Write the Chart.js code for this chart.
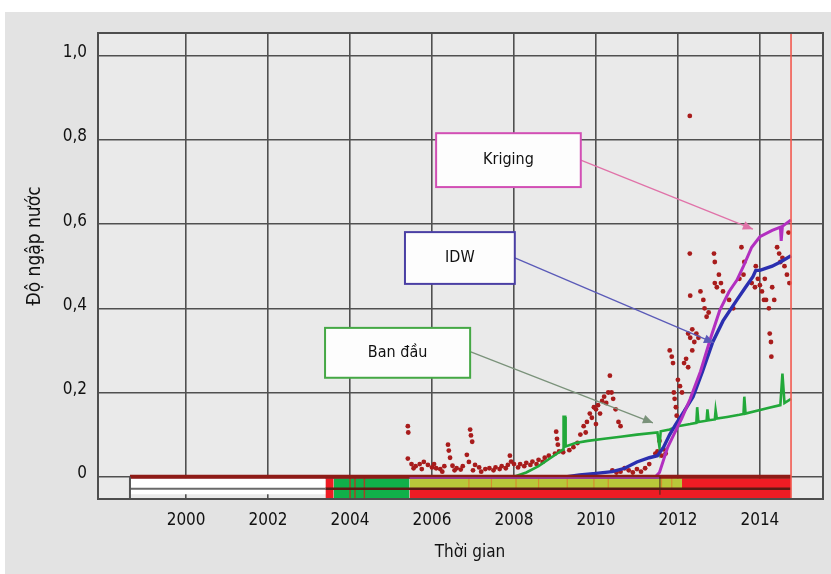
<!DOCTYPE html>
<html>
<head>
<meta charset="utf-8">
<script src="https://cdn.jsdelivr.net/npm/chart.js@4.4.1/dist/chart.umd.min.js"></script>
<style>
  html, body { margin: 0; padding: 0; background: #ffffff; }
  canvas { display: block; }
</style>
</head>
<body>
<canvas id="c" width="831" height="574"></canvas>
<script>
// ---- data ----------------------------------------------------------------
const yearTicks = [2000, 2002, 2004, 2006, 2008, 2010, 2012, 2014];
const valueTicks = [0, 0.2, 0.4, 0.6, 0.8, 1.0];

// simulated water cut, Kriging model
const krigingSeries = [
  [1998.63, 0], [2011.45, 0], [2011.55, 0.01], [2011.65, 0.04], [2011.75, 0.07],
  [2011.9, 0.1], [2012.1, 0.14], [2012.3, 0.185], [2012.55, 0.25], [2012.8, 0.33],
  [2013.02, 0.395], [2013.25, 0.44], [2013.44, 0.467], [2013.6, 0.5], [2013.8, 0.545],
  [2014.0, 0.57], [2014.3, 0.585], [2014.5, 0.593], [2014.52, 0.56], [2014.55, 0.595],
  [2014.76, 0.61]
];

// simulated water cut, IDW model
const idwSeries = [
  [1998.63, 0], [2009.3, 0], [2009.6, 0.004], [2010.0, 0.008], [2010.4, 0.012],
  [2010.7, 0.02], [2011.0, 0.035], [2011.3, 0.045], [2011.5, 0.05], [2011.65, 0.07],
  [2011.8, 0.1], [2011.95, 0.125], [2012.15, 0.155], [2012.37, 0.19], [2012.6, 0.25],
  [2012.85, 0.32], [2013.1, 0.37], [2013.44, 0.42], [2013.65, 0.45], [2013.83, 0.475],
  [2013.9, 0.49], [2014.0, 0.49], [2014.3, 0.5], [2014.5, 0.51], [2014.76, 0.525]
];

// simulated water cut, initial model
const initialSeries = [
  [1998.63, 0], [2008.0, 0], [2008.3, 0.01], [2008.6, 0.025], [2008.9, 0.045],
  [2009.1, 0.058], [2009.2, 0.065], [2009.21, 0.142], [2009.25, 0.142], [2009.26, 0.072],
  [2009.5, 0.08], [2009.8, 0.085], [2010.2, 0.09], [2010.6, 0.095], [2011.0, 0.1],
  [2011.5, 0.105], [2011.55, 0.07], [2011.58, 0.108], [2011.8, 0.112], [2012.0, 0.12],
  [2012.3, 0.125], [2012.45, 0.128], [2012.47, 0.165], [2012.5, 0.13], [2012.7, 0.133],
  [2012.72, 0.16], [2012.75, 0.134], [2012.9, 0.136], [2012.92, 0.158], [2012.95, 0.138],
  [2013.2, 0.142], [2013.5, 0.147], [2013.6, 0.149], [2013.62, 0.19], [2013.65, 0.15],
  [2014.2, 0.163], [2014.5, 0.17], [2014.55, 0.245], [2014.6, 0.175], [2014.76, 0.185]
];

// measured water cut
const observedPoints = [
  [2005.41, 0.12], [2005.42, 0.105], [2005.41, 0.043], [2005.5, 0.03], [2005.6, 0.025],
  [2005.7, 0.03], [2005.8, 0.035], [2005.9, 0.028], [2006.0, 0.022], [2006.1, 0.02],
  [2006.2, 0.018], [2006.3, 0.025], [2006.39, 0.076], [2006.41, 0.062], [2006.44, 0.045],
  [2006.5, 0.026], [2006.6, 0.02], [2006.7, 0.017], [2006.85, 0.052], [2006.93, 0.112],
  [2006.95, 0.098], [2006.98, 0.083], [2006.9, 0.035], [2007.05, 0.028], [2007.15, 0.022],
  [2007.3, 0.018], [2007.4, 0.02], [2007.55, 0.022], [2007.7, 0.025], [2007.85, 0.028],
  [2007.9, 0.05], [2007.93, 0.036], [2008.0, 0.03], [2008.15, 0.03], [2008.3, 0.033],
  [2008.45, 0.036], [2008.6, 0.04], [2008.75, 0.045], [2008.85, 0.05], [2009.0, 0.055],
  [2005.55, 0.02], [2005.75, 0.018], [2006.05, 0.03], [2006.25, 0.012], [2006.55, 0.015],
  [2006.75, 0.025], [2007.0, 0.015], [2007.2, 0.012], [2007.5, 0.015], [2007.65, 0.018],
  [2007.8, 0.02], [2008.1, 0.022], [2008.25, 0.025], [2008.4, 0.028], [2008.55, 0.03],
  [2008.7, 0.035],
  [2009.03, 0.107], [2009.05, 0.09], [2009.07, 0.076], [2009.1, 0.06], [2009.2, 0.058],
  [2009.35, 0.063], [2009.45, 0.07], [2009.55, 0.08],
  [2009.62, 0.1], [2009.7, 0.12], [2009.78, 0.13], [2009.85, 0.15], [2009.9, 0.14],
  [2009.95, 0.165], [2010.0, 0.16], [2010.05, 0.17], [2010.1, 0.15], [2010.15, 0.18],
  [2010.2, 0.19], [2010.25, 0.175], [2010.3, 0.2], [2010.34, 0.24], [2010.38, 0.2],
  [2010.42, 0.185], [2010.48, 0.16], [2010.55, 0.13], [2010.6, 0.12], [2009.75, 0.105],
  [2010.0, 0.125],
  [2010.4, 0.015], [2010.5, 0.01], [2010.6, 0.012], [2010.7, 0.02], [2010.8, 0.015],
  [2010.9, 0.01], [2011.0, 0.018], [2011.1, 0.012], [2011.2, 0.02], [2011.3, 0.03],
  [2011.45, 0.055], [2011.5, 0.06], [2011.55, 0.085], [2011.6, 0.05], [2011.65, 0.065],
  [2011.7, 0.055],
  [2011.8, 0.3], [2011.85, 0.285], [2011.88, 0.27], [2011.9, 0.2], [2011.92, 0.185],
  [2011.95, 0.165], [2011.97, 0.145], [2012.0, 0.23], [2012.05, 0.215], [2012.1, 0.2],
  [2012.15, 0.27], [2012.2, 0.28], [2012.25, 0.26], [2012.35, 0.3],
  [2012.25, 0.34], [2012.3, 0.33], [2012.35, 0.35], [2012.4, 0.32], [2012.45, 0.34],
  [2012.5, 0.33], [2012.3, 0.43], [2012.55, 0.44], [2012.62, 0.42], [2012.29, 0.53],
  [2012.65, 0.4], [2012.7, 0.38], [2012.75, 0.39],
  [2012.9, 0.46], [2012.95, 0.45], [2013.0, 0.48], [2013.05, 0.46], [2013.1, 0.44],
  [2012.88, 0.53], [2012.9, 0.51], [2013.25, 0.42], [2013.35, 0.4], [2013.5, 0.47],
  [2013.6, 0.48], [2013.62, 0.51], [2013.55, 0.545],
  [2013.8, 0.46], [2013.88, 0.45], [2013.95, 0.47], [2014.05, 0.44], [2014.1, 0.42],
  [2014.15, 0.42], [2014.22, 0.4], [2014.3, 0.45], [2014.35, 0.42], [2014.42, 0.545],
  [2014.47, 0.53], [2014.5, 0.51], [2014.6, 0.5], [2014.66, 0.48], [2014.7, 0.58],
  [2014.72, 0.46], [2014.24, 0.34], [2014.27, 0.32], [2014.28, 0.285], [2014.0, 0.455],
  [2014.12, 0.47], [2013.9, 0.5], [2014.55, 0.52],
  [2012.29, 0.857]
];

// status strip below the zero line: [from, to, kind]
const stripUpper = [
  [1998.63, 2003.4, 'blank'], [2003.4, 2003.6, 'red'], [2003.6, 2005.45, 'green'],
  [2005.45, 2012.1, 'olive'], [2012.1, 2014.76, 'red']
];
const stripLower = [
  [1998.63, 2003.4, 'blank'], [2003.4, 2003.6, 'red'], [2003.6, 2005.45, 'green'],
  [2005.45, 2014.76, 'red']
];
const stripMarks = [2004.0, 2004.12, 2004.35];
const oliveMarks = [2006.9, 2007.45, 2008.05, 2008.6, 2009.3, 2009.95, 2010.3, 2011.6, 2011.85];

const startYear = 1998.63;
const endYear = 2014.76;

// ---- styling --------------------------------------------------------------
const FONT = "'Liberation Sans Narrow', 'DejaVu Sans Condensed', 'Roboto Condensed', sans-serif";
const stripColors = { blank: '#ffffff', red: '#ee1c24', green: '#10b04a', olive: '#b9c93a' };
const ROW = { upTop: -0.004, upBottom: -0.0275, lowTop: -0.0295, lowBottom: -0.053, divider: -0.0285 };

const toXY = arr => arr.map(([x, y]) => ({ x, y }));
const seg = (x0, x1, y) => [{ x: x0, y }, { x: x1, y }];
const vseg = (x, y0, y1) => [{ x, y: y0 }, { x, y: y1 }];

const datasets = [];

datasets.push({
  label: 'Đo đạc', data: toXY(observedPoints), showLine: false,
  pointRadius: 2.4, pointHoverRadius: 2.4, pointBackgroundColor: '#a81c1c',
  pointBorderWidth: 0, order: 50
});
datasets.push({
  label: 'Ban đầu', data: toXY(initialSeries), showLine: true, borderColor: '#22a83a',
  borderWidth: 2.6, pointRadius: 0, tension: 0, order: 40
});
datasets.push({
  label: 'IDW', data: toXY(idwSeries), showLine: true, borderColor: '#2b2fb0',
  borderWidth: 3.4, pointRadius: 0, tension: 0, order: 30
});
datasets.push({
  label: 'Kriging', data: toXY(krigingSeries), showLine: true, borderColor: '#b22fc0',
  borderWidth: 3, pointRadius: 0, tension: 0, order: 20
});

stripUpper.forEach(([a, b, k]) => datasets.push({
  data: seg(a, b, ROW.upTop), showLine: true, borderWidth: 0, pointRadius: 0,
  fill: { value: k === 'blank' ? ROW.lowTop - 0.012 : ROW.upBottom },
  backgroundColor: stripColors[k], order: 12
}));
stripLower.forEach(([a, b, k]) => {
  if (k === 'blank') return;
  datasets.push({
    data: seg(a, b, ROW.lowTop), showLine: true, borderWidth: 0, pointRadius: 0,
    fill: { value: ROW.lowBottom }, backgroundColor: stripColors[k], order: 12
  });
});
// divider between the two strip rows
datasets.push({ data: seg(startYear, 2003.4, ROW.divider), showLine: true, borderColor: '#6a6a6a', borderWidth: 2, pointRadius: 0, order: 8 });
datasets.push({ data: seg(2003.4, endYear, ROW.divider), showLine: true, borderColor: '#5a1a14', borderWidth: 2.4, pointRadius: 0, order: 8 });
stripMarks.forEach(x => datasets.push({ data: vseg(x, ROW.upTop, ROW.lowBottom), showLine: true, borderColor: 'rgba(200,40,30,0.8)', borderWidth: 1.5, pointRadius: 0, order: 9 }));
oliveMarks.forEach(x => datasets.push({ data: vseg(x, ROW.upTop, ROW.upBottom), showLine: true, borderColor: 'rgba(225,120,40,0.7)', borderWidth: 1.2, pointRadius: 0, order: 9 }));
// zero line of the strip
datasets.push({ data: seg(startYear, endYear, 0), showLine: true, borderColor: '#8e1b16', borderWidth: 4, pointRadius: 0, order: 4 });
datasets.push({ data: seg(2005.45, 2011.55, -0.003), showLine: true, borderColor: '#9a3fb0', borderWidth: 1.6, pointRadius: 0, order: 3 });
// time markers
datasets.push({ data: vseg(startYear, 0, -0.053), showLine: true, borderColor: '#555555', borderWidth: 2, pointRadius: 0, order: 2 });
datasets.push({ data: vseg(2011.56, 0.0, ROW.lowBottom + 0.01), showLine: true, borderColor: 'rgba(70,40,30,0.7)', borderWidth: 1.5, pointRadius: 0, order: 2 });
datasets.push({ data: vseg(endYear, -0.053, 1.06), showLine: true, borderColor: '#f25a50', borderWidth: 1.6, pointRadius: 0, order: 1 });

// ---- callouts (data coordinates) -------------------------------------------
const callouts = [
  { text: 'Kriging', box: [2006.1, 0.816, 2009.63, 0.688], color: '#d24fb5', arrowColor: '#e072a8',
    from: [2009.63, 0.752], to: [2013.83, 0.588] },
  { text: 'IDW', box: [2005.34, 0.581, 2008.02, 0.458], color: '#4a3fa4', arrowColor: '#5a5ab8',
    from: [2008.02, 0.52], to: [2012.88, 0.318] },
  { text: 'Ban đầu', box: [2003.39, 0.3535, 2006.93, 0.235], color: '#45a845', arrowColor: '#7a927a',
    from: [2006.93, 0.297], to: [2011.39, 0.128] }
];

const framePlugin = {
  id: 'frame',
  beforeDraw(chart) {
    const { ctx, chartArea: a } = chart;
    ctx.save();
    ctx.fillStyle = '#ffffff';
    ctx.fillRect(0, 0, chart.width, chart.height);
    ctx.fillStyle = '#e3e3e3';
    ctx.fillRect(5, 12, chart.width - 5, chart.height - 12);
    ctx.fillStyle = '#eaeaea';
    ctx.fillRect(a.left, a.top, a.right - a.left, a.bottom - a.top);
    ctx.restore();
  },
  afterDatasetsDraw(chart) {
    const { ctx, chartArea: a, scales } = chart;
    const X = v => scales.x.getPixelForValue(v);
    const Y = v => scales.y.getPixelForValue(v);
    ctx.save();
    ctx.strokeStyle = '#4e4e4e';
    ctx.lineWidth = 2;
    ctx.strokeRect(a.left, a.top, a.right - a.left, a.bottom - a.top);

    callouts.forEach(c => {
      // arrow
      const x0 = X(c.from[0]), y0 = Y(c.from[1]);
      const x1 = X(c.to[0]), y1 = Y(c.to[1]);
      ctx.strokeStyle = c.arrowColor;
      ctx.fillStyle = c.arrowColor;
      ctx.lineWidth = 1.3;
      ctx.beginPath(); ctx.moveTo(x0, y0); ctx.lineTo(x1, y1); ctx.stroke();
      const ang = Math.atan2(y1 - y0, x1 - x0);
      const L = 10, W = 4.5;
      ctx.beginPath();
      ctx.moveTo(x1, y1);
      ctx.lineTo(x1 - L * Math.cos(ang) + W * Math.sin(ang), y1 - L * Math.sin(ang) - W * Math.cos(ang));
      ctx.lineTo(x1 - L * Math.cos(ang) - W * Math.sin(ang), y1 - L * Math.sin(ang) + W * Math.cos(ang));
      ctx.closePath(); ctx.fill();
      // box
      const bx0 = X(c.box[0]), by0 = Y(c.box[1]), bx1 = X(c.box[2]), by1 = Y(c.box[3]);
      ctx.fillStyle = '#fdfdfd';
      ctx.fillRect(bx0, by0, bx1 - bx0, by1 - by0);
      ctx.strokeStyle = c.color;
      ctx.lineWidth = 2;
      ctx.strokeRect(bx0, by0, bx1 - bx0, by1 - by0);
      ctx.fillStyle = '#111111';
      ctx.font = `16px ${FONT}`;
      ctx.textAlign = 'center';
      ctx.textBaseline = 'middle';
      ctx.fillText(c.text, (bx0 + bx1) / 2, (by0 + by1) / 2);
    });
    ctx.restore();
  },
  afterDraw(chart) {
    const { ctx } = chart;
    ctx.save();
    ctx.fillStyle = '#111111';
    ctx.textAlign = 'center';
    ctx.textBaseline = 'middle';
    ctx.font = `17px ${FONT}`;
    ctx.fillText('Thời gian', 470, 553);
    ctx.translate(35, 246);
    ctx.rotate(-Math.PI / 2);
    ctx.font = `19px ${FONT}`;
    ctx.fillText('Độ ngập nước', 0, 0);
    ctx.restore();
  }
};

const gridStyle = { color: '#505050', lineWidth: 1.6, drawTicks: false };

new Chart(document.getElementById('c'), {
  type: 'scatter',
  data: { datasets },
  options: {
    responsive: false,
    animation: false,
    devicePixelRatio: 1,
    layout: { padding: { top: 33, right: 8, left: 0, bottom: 0 } },
    plugins: { legend: { display: false }, tooltip: { enabled: false } },
    scales: {
      x: {
        type: 'linear', min: 1997.85, max: 2015.54,
        grid: gridStyle, border: { display: false },
        afterBuildTicks: axis => { axis.ticks = yearTicks.map(v => ({ value: v })); },
        afterFit: axis => { axis.height = 75; },
        ticks: {
          autoSkip: false, maxRotation: 0, padding: 11, color: '#111111',
          font: { family: FONT, size: 17 },
          callback: v => String(v)
        }
      },
      y: {
        type: 'linear', min: -0.053, max: 1.054,
        grid: gridStyle, border: { display: false },
        afterBuildTicks: axis => { axis.ticks = valueTicks.map(v => ({ value: v })); },
        afterFit: axis => { axis.width = 98; },
        ticks: {
          padding: 11, color: '#111111', labelOffset: -3,
          font: { family: FONT, size: 17 },
          callback: v => (v === 0 ? '0' : v.toFixed(1).replace('.', ','))
        }
      }
    }
  },
  plugins: [framePlugin]
});
</script>
</body>
</html>
